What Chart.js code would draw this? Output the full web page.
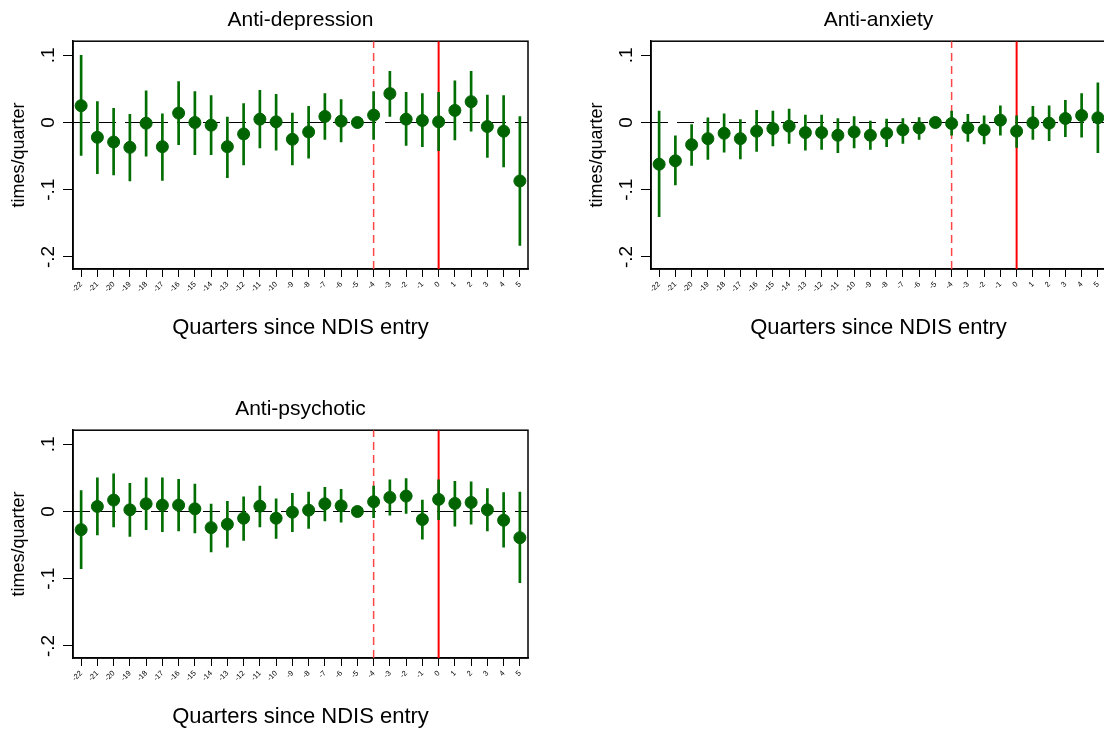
<!DOCTYPE html>
<html>
<head>
<meta charset="utf-8">
<script src="https://cdn.jsdelivr.net/npm/chart.js@4"></script>
<style>
  html, body { margin: 0; padding: 0; background: #fff; overflow: hidden; width: 1104px; height: 731px; }
  canvas { position: absolute; }
</style>
</head>
<body>
<canvas id="dep" width="545" height="341" style="left:0px;top:0px"></canvas>
<canvas id="anx" width="545" height="341" style="left:578px;top:0px"></canvas>
<canvas id="psy" width="545" height="341" style="left:0px;top:389px"></canvas>
<script>
// quarters relative to NDIS entry
const quarters = [-22, -21, -20, -19, -18, -17, -16, -15, -14, -13, -12, -11, -10, -9,
  -8, -7, -6, -5, -4, -3, -2, -1, 0, 1, 2, 3, 4, 5];

// anti-depression: estimate, lower / upper CI
const depCoef = [0.025, -0.022, -0.029, -0.037, -0.001, -0.036, 0.014, 0.000, -0.004, -0.036, -0.017, 0.005, 0.001, -0.025,
  -0.014, 0.009, 0.002, 0, 0.011, 0.043, 0.005, 0.003, 0.001, 0.018, 0.031, -0.006, -0.013, -0.087];
const depLo = [-0.049, -0.076, -0.078, -0.087, -0.050, -0.086, -0.033, -0.048, -0.048, -0.082, -0.063, -0.038, -0.041, -0.063,
  -0.053, -0.025, -0.029, 0, -0.025, 0.009, -0.034, -0.036, -0.042, -0.026, -0.013, -0.052, -0.066, -0.183];
const depHi = [0.100, 0.031, 0.021, 0.012, 0.047, 0.013, 0.061, 0.046, 0.040, 0.008, 0.028, 0.048, 0.042, 0.014,
  0.024, 0.043, 0.034, 0, 0.046, 0.076, 0.045, 0.043, 0.045, 0.062, 0.076, 0.041, 0.040, 0.009];

// anti-anxiety
const anxCoef = [-0.062, -0.057, -0.033, -0.024, -0.016, -0.024, -0.013, -0.009, -0.0055, -0.015, -0.015, -0.019, -0.014, -0.019,
  -0.016, -0.011, -0.008, 0, -0.0015, -0.008, -0.011, 0.0035, -0.013, -0.0005, -0.001, 0.006, 0.0105, 0.007];
const anxLo = [-0.140, -0.093, -0.064, -0.055, -0.044, -0.054, -0.043, -0.035, -0.031, -0.041, -0.040, -0.045, -0.038, -0.040,
  -0.036, -0.031, -0.025, 0, -0.019, -0.028, -0.032, -0.019, -0.037, -0.025, -0.027, -0.021, -0.022, -0.045];
const anxHi = [0.017, -0.020, -0.003, 0.007, 0.013, 0.0045, 0.018, 0.017, 0.020, 0.011, 0.011, 0.006, 0.009, 0.002,
  0.005, 0.006, 0.0075, 0, 0.017, 0.012, 0.010, 0.025, 0.010, 0.024, 0.025, 0.033, 0.043, 0.059];

// anti-psychotic
const psyCoef = [-0.027, 0.0075, 0.017, 0.0025, 0.0115, 0.0095, 0.0095, 0.004, -0.024, -0.019, -0.010, 0.008, -0.010, -0.001,
  0.002, 0.0115, 0.0085, 0, 0.0145, 0.021, 0.023, -0.012, 0.018, 0.012, 0.0135, 0.0025, -0.013, -0.039];
const psyLo = [-0.085, -0.035, -0.023, -0.037, -0.027, -0.030, -0.029, -0.032, -0.060, -0.053, -0.043, -0.023, -0.040, -0.030,
  -0.025, -0.014, -0.016, 0, -0.009, -0.0055, -0.003, -0.041, -0.012, -0.022, -0.019, -0.029, -0.053, -0.106];
const psyHi = [0.031, 0.050, 0.056, 0.042, 0.050, 0.050, 0.048, 0.041, 0.011, 0.015, 0.022, 0.038, 0.019, 0.027,
  0.029, 0.036, 0.033, 0, 0.038, 0.047, 0.049, 0.017, 0.047, 0.045, 0.044, 0.034, 0.028, 0.029];

// axis ticks
const yTickValues = [0.1, 0, -0.1, -0.2];
const yTickLabels = [".1", "0", "-.1", "-.2"];
const xRange = [-22.5, 5.5];
const yRange = [-0.218, 0.121];
const preEntryLine = -4;
const entryLine = 0;

const FONT = "'Liberation Sans', Arial, sans-serif";
const GREEN = "rgb(0,100,0)";

// black box round the plot region
const framePlugin = {
  id: "frame",
  beforeDatasetsDraw(chart) {
    const a = chart.chartArea;
    const ctx = chart.ctx;
    ctx.save();
    ctx.strokeStyle = "#000";
    ctx.lineWidth = 1.5;
    ctx.strokeRect(a.left, a.top, a.right - a.left, a.bottom - a.top);
    ctx.restore();
  }
};

function makePanel(id, title, coef, lo, hi) {
  new Chart(document.getElementById(id), {
    type: "scatter",
    data: {
      datasets: [
        {
          type: "scatter",
          data: quarters.map((q, i) => ({ x: q, y: coef[i] })),
          backgroundColor: GREEN,
          borderColor: GREEN,
          pointRadius: 6,
          borderWidth: 1,
          order: 0
        },
        {
          type: "bar",
          data: quarters.map((q, i) => ({ x: q, y: [lo[i], hi[i]] })),
          backgroundColor: "rgb(0,110,0)",
          barThickness: 2,
          order: 1
        },
        {
          type: "line",
          data: [{ x: xRange[0], y: 0 }, { x: xRange[1], y: 0 }],
          borderColor: "#000",
          borderWidth: 1,
          borderDash: [17, 9],
          pointRadius: 0,
          order: 4
        },
        {
          // dashed marker one year before entry
          type: "line",
          data: [{ x: preEntryLine, y: yRange[0] }, { x: preEntryLine, y: yRange[1] }],
          borderColor: "rgb(255,70,70)",
          borderWidth: 1.5,
          borderDash: [8, 5],
          pointRadius: 0,
          order: 3
        },
        {
          type: "line",
          data: [{ x: entryLine, y: yRange[0] }, { x: entryLine, y: yRange[1] }],
          borderColor: "rgb(255,0,0)",
          borderWidth: 2,
          pointRadius: 0,
          order: 2
        }
      ]
    },
    options: {
      responsive: false,
      animation: false,
      layout: { padding: { top: 2, right: 17, left: 2, bottom: 0 } },
      plugins: {
        legend: { display: false },
        tooltip: { enabled: false },
        title: {
          display: true,
          text: title,
          fullSize: false,
          color: "#000",
          font: { family: FONT, size: 21, weight: "normal" },
          padding: { top: 6, bottom: 8 }
        }
      },
      scales: {
        x: {
          type: "linear",
          min: xRange[0],
          max: xRange[1],
          offset: false,
          afterFit: s => { s.height = 72; },
          afterBuildTicks: s => { s.ticks = quarters.map(v => ({ value: v })); },
          grid: { display: true, offset: false, drawOnChartArea: false, drawTicks: true, tickLength: 8, color: "#000" },
          border: { display: true, color: "#000", width: 1.5 },
          ticks: {
            color: "#000",
            font: { family: FONT, size: 7.5 },
            minRotation: 45,
            maxRotation: 45,
            padding: 3,
            autoSkip: false,
            callback: v => String(v)
          },
          title: {
            display: true,
            text: "Quarters since NDIS entry",
            color: "#000",
            font: { family: FONT, size: 22 },
            padding: { top: 0, bottom: 0 }
          }
        },
        y: {
          type: "linear",
          min: yRange[0],
          max: yRange[1],
          afterFit: s => { s.width = 71; },
          afterBuildTicks: s => { s.ticks = yTickValues.map(v => ({ value: v })); },
          grid: { display: true, drawOnChartArea: false, drawTicks: true, tickLength: 10, color: "#000" },
          border: { display: true, color: "#000", width: 1.5 },
          ticks: {
            color: "#000",
            font: { family: FONT, size: 19 },
            minRotation: 90,
            maxRotation: 90,
            crossAlign: "center",
            padding: 3,
            callback: v => yTickLabels[yTickValues.indexOf(v)]
          },
          title: {
            display: true,
            text: "times/quarter",
            color: "#000",
            font: { family: FONT, size: 18 },
            padding: { top: 6, bottom: 0 }
          }
        }
      }
    },
    plugins: [framePlugin]
  });
}

makePanel("dep", "Anti-depression", depCoef, depLo, depHi);
makePanel("anx", "Anti-anxiety", anxCoef, anxLo, anxHi);
makePanel("psy", "Anti-psychotic", psyCoef, psyLo, psyHi);
</script>
</body>
</html>
